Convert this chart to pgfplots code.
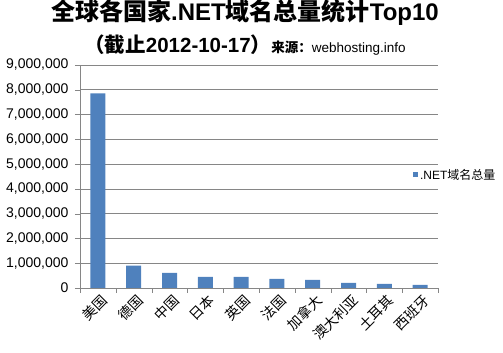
\documentclass[border=0pt]{standalone}
\usepackage{fontspec}
\setmainfont{Liberation Sans}
\newfontfamily\cjk{Noto Sans CJK SC}
\usepackage{pgfplots}
\pgfplotsset{compat=1.18}
\definecolor{barblue}{HTML}{4F81BD}
\definecolor{gridgray}{HTML}{868686}
\begin{document}
\begin{tikzpicture}[x=1pt,y=1pt]
\useasboundingbox (0,0) rectangle (503,353);
\node[font=\bfseries\fontsize{24}{26}\selectfont, inner sep=0pt] at (245pt,340pt) {{\cjk 全球各国家}.NET{\cjk 域名总量统计}Top10};
\node[inner sep=0pt, anchor=base] at (245pt,300pt) {{\bfseries\fontsize{20.5}{22}\selectfont{\cjk （截止}2012-10-17{\cjk ）}}{\fontsize{13.5}{15}\selectfont{\bfseries\cjk 来源：}webhosting.info}};
\begin{axis}[
  at={(80pt,65pt)}, anchor=south west,
  scale only axis, width=358pt, height=223pt,
  xmin=-0.5, xmax=9.5, ymin=0, ymax=9000000,
  axis lines=left, axis line style={-, draw=gridgray},
  ytick={0,1000000,...,9000000},
  ymajorgrids, grid style={draw=gridgray, line width=0.6pt},
  scaled y ticks=false,
  y tick label style={font=\fontsize{14}{14}\selectfont, xshift=-3pt,
    /pgf/number format/fixed, /pgf/number format/1000 sep={,}, /pgf/number format/assume math mode=true},
  xtick={0,...,9},
  xticklabels={美国,德国,中国,日本,英国,法国,加拿大,澳大利亚,土耳其,西班牙},
  x tick label style={font=\cjk\fontsize{14}{14}\selectfont, rotate=45, anchor=north east, xshift=5pt, yshift=2pt},
  major x tick style={draw=none},
  minor xtick={-0.5,0.5,...,9.5},
  minor x tick style={draw=gridgray},
  minor tick length=5pt,
  major tick length=5pt,
  tick align=outside,
  y tick style={draw=gridgray},
  legend style={at={(0.93,0.507)}, anchor=west, draw=none, fill=none, font=\fontsize{12}{12}\selectfont, inner sep=0pt},
  legend image code/.code={\fill[barblue] (0pt,-2.5pt) rectangle (5pt,2.5pt);},
]
\addplot[ybar, bar width=15pt, fill=barblue, draw=none] coordinates {
  (0,7850000) (1,900000) (2,610000) (3,450000) (4,450000)
  (5,370000) (6,330000) (7,210000) (8,170000) (9,130000)
};
\addlegendentry{.NET{\cjk 域名总量}}
\end{axis}
\end{tikzpicture}
\end{document}
